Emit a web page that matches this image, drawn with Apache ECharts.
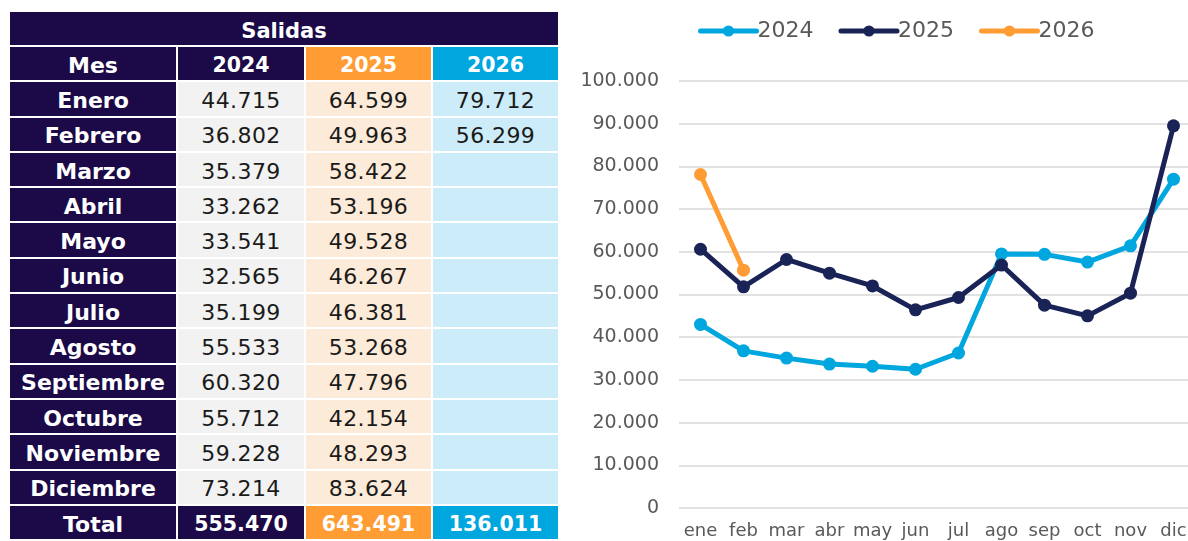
<!DOCTYPE html>
<html>
<head>
<meta charset="utf-8">
<script src="https://cdn.jsdelivr.net/npm/echarts@6/dist/echarts.min.js"></script>
<style>
  html, body { margin: 0; padding: 0; background: #fff; overflow: hidden; width: 1188px; height: 541px; }
  #table { position: absolute; left: 8px; top: 10px; border-collapse: separate; border-spacing: 2px;
    font-family: "DejaVu Sans", sans-serif; font-size: 22px; }
  #table td { height: 30.3px; padding: 3px 0 0 0; text-align: center; color: #1a1a1a; letter-spacing: 0.4px; }
  #table td.dark { background: #1b0a47; color: #fff; font-weight: bold; letter-spacing: 0; }
  #table td.orange { background: #ff9c33; color: #fff; font-weight: bold; letter-spacing: 0; }
  #table td.blue { background: #00a6de; color: #fff; font-weight: bold; letter-spacing: 0; }
  #table td.c24 { background: #f2f2f2; }
  #table td.c25 { background: #fdebd9; }
  #table td.c26 { background: #ccecf9; }
  #table tr.head td, #table tr.total td { font-size: 20.5px; }
  #table tr.total td:first-child { font-size: 22px; }
  #chart { position: absolute; left: 570px; top: 0; width: 625px; height: 541px; }
</style>
</head>
<body>
<table id="table"></table>
<div id="chart"></div>
<script>
// tabla
const tableTitle = 'Salidas'
const tableYears = ['2024', '2025', '2026']
const monthNames = ['Enero', 'Febrero', 'Marzo', 'Abril', 'Mayo', 'Junio', 'Julio', 'Agosto',
  'Septiembre', 'Octubre', 'Noviembre', 'Diciembre']
const table2024 = ['44.715', '36.802', '35.379', '33.262', '33.541', '32.565', '35.199', '55.533',
  '60.320', '55.712', '59.228', '73.214']
const table2025 = ['64.599', '49.963', '58.422', '53.196', '49.528', '46.267', '46.381', '53.268',
  '47.796', '42.154', '48.293', '83.624']
const table2026 = ['79.712', '56.299', '', '', '', '', '', '', '', '', '', '']
const tableTotals = ['555.470', '643.491', '136.011']

// grafico
const months = ['ene', 'feb', 'mar', 'abr', 'may', 'jun', 'jul', 'ago', 'sep', 'oct', 'nov', 'dic']
const s2024 = [43000, 36800, 35100, 33700, 33200, 32500, 36300, 59500, 59400, 57600, 61400, 77000]
const s2025 = [60600, 51800, 58200, 55000, 52000, 46400, 49300, 56900, 47500, 45000, 50300, 89500]
const s2026 = [78100, 55700, null, null, null, null, null, null, null, null, null, null]

function buildTable() {
  const widths = [166, 126, 125, 125]
  let html = `<tr><td class="dark" colspan="4" style="height:29px;padding-top:4px;font-size:21px">${tableTitle}</td></tr>`
  html += `<tr class="head"><td class="dark" style="width:${widths[0]}px;font-size:22px">Mes</td>` +
    `<td class="dark" style="width:${widths[1]}px">${tableYears[0]}</td>` +
    `<td class="orange" style="width:${widths[2]}px">${tableYears[1]}</td>` +
    `<td class="blue" style="width:${widths[3]}px">${tableYears[2]}</td></tr>`
  monthNames.forEach((m, i) => {
    html += `<tr><td class="dark">${m}</td><td class="c24">${table2024[i]}</td>` +
      `<td class="c25">${table2025[i]}</td><td class="c26">${table2026[i]}</td></tr>`
  })
  html += `<tr class="total"><td class="dark">Total</td><td class="dark">${tableTotals[0]}</td>` +
    `<td class="orange">${tableTotals[1]}</td><td class="blue">${tableTotals[2]}</td></tr>`
  document.getElementById('table').innerHTML = html
}
buildTable()

const font = 'DejaVu Sans'
const chart = echarts.init(document.getElementById('chart'))

function lineSeries(name, data, color) {
  return {
    name,
    type: 'line',
    data,
    symbol: 'circle',
    symbolSize: 13,
    lineStyle: { width: 5, color },
    itemStyle: { color },
    connectNulls: false,
  }
}

chart.setOption({
  animation: false,
  color: ['#00a6de', '#1a2356', '#ff9c33'],
  legend: {
    top: 15,
    left: 123,
    itemWidth: 56,
    itemHeight: 14,
    itemGap: 25,
    lineStyle: { width: 5, cap: 'round' },
    textStyle: { fontFamily: font, fontSize: 22, color: '#595959', padding: [0, 0, 0, -4] },
    data: ['2024', '2025', '2026'],
  },
  grid: { left: 109, right: 0, top: 81, bottom: 33 },
  xAxis: {
    type: 'category',
    data: months,
    axisLine: { show: false },
    axisTick: { show: false },
    axisLabel: { fontFamily: font, fontSize: 18, color: '#595959', margin: 14, interval: 0 },
  },
  yAxis: {
    type: 'value',
    min: 0,
    max: 100000,
    interval: 10000,
    axisLabel: {
      fontFamily: font, fontSize: 19, color: '#595959', margin: 20,
      formatter: v => v.toLocaleString('de-DE'),
    },
    splitLine: { lineStyle: { color: '#d9d9d9', width: 1.5 } },
  },
  series: [
    lineSeries('2024', s2024, '#00a6de'),
    lineSeries('2025', s2025, '#1a2356'),
    lineSeries('2026', s2026, '#ff9c33'),
  ],
})
</script>
</body>
</html>
